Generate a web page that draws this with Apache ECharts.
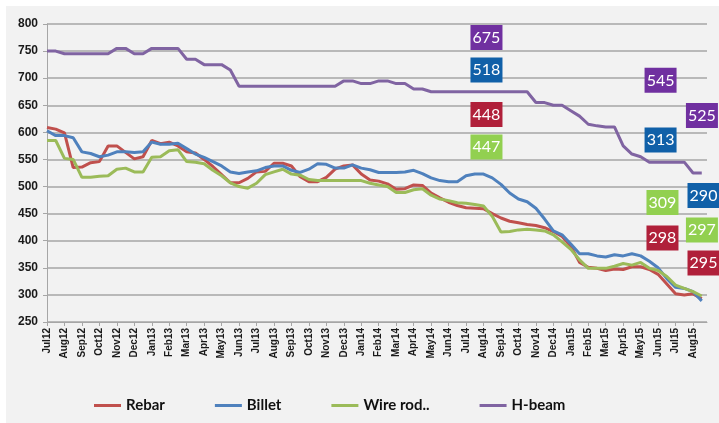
<!DOCTYPE html>
<html><head><meta charset="utf-8">
<script src="https://cdn.jsdelivr.net/npm/echarts@6/dist/echarts.min.js"></script>
<style>
html,body{margin:0;padding:0;background:#fff;width:719px;height:423px;overflow:hidden}
#c{position:absolute;left:6px;top:6px;width:713px;height:417px;background:#f2f2f2}
</style>
</head><body><div id="c"></div>
<script>
// Tick labels (one per month, starting Jul 2012)
const monthLabels = ['Jul12','Aug12','Sep12','Oct12','Nov12','Dec12','Jan13','Feb13','Mar13','Apr13','May13','Jun13',
  'Jul13','Aug13','Sep13','Oct13','Nov13','Dec13','Jan14','Feb14','Mar14','Apr14','May14','Jun14',
  'Jul14','Aug14','Sep14','Oct14','Nov14','Dec14','Jan15','Feb15','Mar15','Apr15','May15','Jun15','Jul15','Aug15'];

// Series values, sampled every half month from Jul 2012
const rebar = [609,606,599,535,536,544,546,575,575,563,
  551,555,585,579,582,575,564,562,550,537,
  522,507,507,515,527,528,543,543,538,518,
  509,509,517,532,538,540,523,512,510,505,
  495,496,503,502,488,479,471,465,461,460,
  459,450,442,436,433,430,428,424,417,408,
  390,360,351,349,345,348,347,352,352,347,
  338,320,302,300,302,293];
const billet = [603,594,594,590,564,561,555,558,564,564,
  563,564,582,578,578,580,570,560,554,546,
  538,527,524,527,529,535,538,538,530,526,
  532,542,541,534,534,540,534,531,526,526,
  526,527,530,524,516,511,509,509,520,523,
  523,516,504,488,477,472,460,440,418,411,
  394,376,376,372,370,374,372,376,372,362,
  350,330,314,312,306,289];
const wireRod = [585,585,552,550,517,517,519,520,532,534,
  527,527,554,555,566,568,546,545,542,530,
  520,507,500,497,506,522,527,532,523,521,
  513,511,511,511,511,511,511,506,503,500,
  489,489,494,496,484,477,474,470,469,467,
  464,445,416,417,420,421,420,418,411,398,
  384,365,349,349,349,353,358,355,360,349,
  345,334,318,312,306,298];
const hBeam = [750,750,745,745,745,745,745,745,755,755,
  745,745,755,755,755,755,735,735,725,725,
  725,715,685,685,685,685,685,685,685,685,
  685,685,685,685,695,695,690,690,695,695,
  690,690,680,680,675,675,675,675,675,675,
  675,675,675,675,675,675,655,655,650,650,
  640,630,615,612,610,610,575,560,555,545,
  545,545,545,545,525,525];

// Annotation boxes: text values
const rebarNotes = ['448','298','295'];
const billetNotes = ['518','313','290'];
const wireNotes = ['447','309','297'];
const hBeamNotes = ['675','545','525'];

// positions of annotation boxes in axis coordinates (month index, price)
const noteAnchors = {
  rebar: [[25.17,633],[35.25,405],[37.6,359]],
  billet: [[25.17,715],[35.14,586],[37.6,483.5]],
  wire: [[25.17,573],[35.25,470.6],[37.51,420]],
  hbeam: [[25.17,775],[35.14,696],[37.51,631]]
};

const colors = {rebar:'#c0504d', billet:'#4f81bd', wire:'#9bbb59', hbeam:'#8064a2'};
const boxColors = {rebar:'#b0203a', billet:'#1060a8', wire:'#92d050', hbeam:'#7030a0'};

function pairs(arr){ return arr.map((v,i)=>[i/2, v]); }
function notes(vals, anchors, col){
  return {
    symbol:'rect', symbolSize:[32,25], silent:true,
    itemStyle:{color:col},
    label:{show:true, color:'#fff', fontSize:16, fontFamily:'Lato', formatter:p=>p.data.value},
    data: vals.map((t,i)=>({coord:anchors[i], value:t}))
  };
}
function mkSeries(name, arr, key, vals){
  return {
    name, type:'line', data:pairs(arr), showSymbol:false, symbol:'none',
    lineStyle:{width:3, color:colors[key]}, itemStyle:{color:colors[key]},
    markPoint: notes(vals, noteAnchors[key], boxColors[key])
  };
}

const chart = echarts.init(document.getElementById('c'));
chart.setOption({
  animation:false,
  grid:{left:41, right:12, top:18, bottom:101, containLabel:false},
  legend:{
    left:83, top:387, itemWidth:27, itemHeight:3, itemGap:50, icon:'rect',
    textStyle:{fontFamily:'Lato', fontWeight:'bold', fontSize:15, color:'#111'},
    data:['Rebar','Billet','Wire rod..','H-beam']
  },
  xAxis:{
    type:'value', min:0, max:37.8, interval:1,
    axisLine:{show:true, lineStyle:{color:'#a6a6a6', width:1}},
    axisTick:{show:true, length:4, lineStyle:{color:'#a6a6a6'}},
    splitLine:{show:false},
    axisLabel:{rotate:90, fontSize:10, fontWeight:'bold', fontFamily:'Liberation Sans', color:'#1a1a1a', margin:6,
      showMaxLabel:false,
      formatter:v=>Number.isInteger(v)?(monthLabels[v]||''):''}
  },
  yAxis:{
    type:'value', min:250, max:800, interval:50,
    axisLine:{show:true, lineStyle:{color:'#a6a6a6', width:1}},
    axisTick:{show:true, length:4, lineStyle:{color:'#a6a6a6'}},
    splitLine:{show:true, lineStyle:{color:'#a6a6a6', width:1.5}},
    axisLabel:{fontSize:12, fontWeight:'bold', fontFamily:'Liberation Sans', color:'#1a1a1a', margin:9}
  },
  series:[
    mkSeries('Rebar', rebar, 'rebar', rebarNotes),
    mkSeries('Billet', billet, 'billet', billetNotes),
    mkSeries('Wire rod..', wireRod, 'wire', wireNotes),
    mkSeries('H-beam', hBeam, 'hbeam', hBeamNotes)
  ]
});
</script>
</body></html>
